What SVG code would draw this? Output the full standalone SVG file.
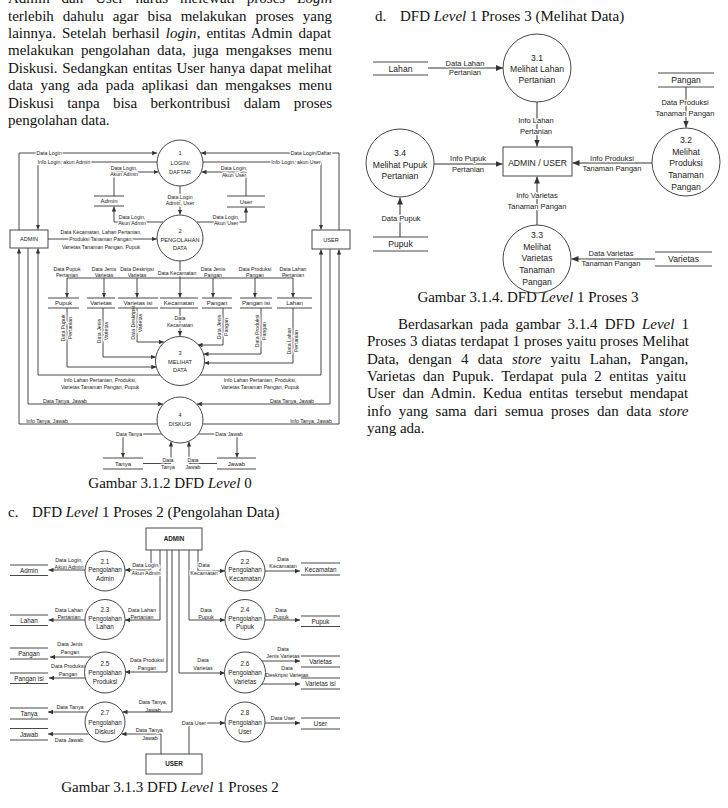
<svg xmlns="http://www.w3.org/2000/svg" width="728" height="808" viewBox="0 0 728 808">
<defs>
<marker id="a" markerUnits="userSpaceOnUse" markerWidth="5" markerHeight="5" refX="5" refY="2.5" orient="auto"><path d="M0,0.3 L5,2.5 L0,4.7 z" fill="#333"/></marker>
<marker id="b" markerUnits="userSpaceOnUse" markerWidth="7" markerHeight="7" refX="7" refY="3.5" orient="auto"><path d="M0,0.6 L7,3.5 L0,6.4 z" fill="#333"/></marker>
<style>
.body{font-family:"Liberation Serif","Times New Roman",serif;font-size:15px;fill:#111}
.cap{text-anchor:middle}
.i{font-style:italic}
.sa{font-family:"Liberation Sans",Arial,sans-serif;fill:#222;text-anchor:middle}
.l0{font-size:5.2px}
.p0{font-size:5.6px}
.s0{font-size:6px}
.l3{font-size:7.5px}
.p3{font-size:8.6px}
.l2{font-size:5.4px}
.p2{font-size:6.3px}
.bd{font-weight:bold}
.h{stroke:#fff;stroke-width:2.4px;paint-order:stroke;stroke-linejoin:round}
.w{fill:none;stroke:#333;stroke-width:0.9}
.wa{fill:none;stroke:#333;stroke-width:0.9;marker-end:url(#a)}
.wb{fill:none;stroke:#333;stroke-width:1;marker-end:url(#b)}
.n{fill:#fff;stroke:#333;stroke-width:0.9}
.d{stroke:#333;stroke-width:0.9}
</style>
</defs>
<rect width="728" height="808" fill="#fff"/>

<!-- Body text -->
<g id="text-left">
<text class="body" x="8" y="3" style="word-spacing:8.2px">Admin dan User harus melewati proses <tspan class="i">Login</tspan></text>
<text class="body" x="8" y="20.5" style="word-spacing:5.27px">terlebih dahulu agar bisa melakukan proses yang</text>
<text class="body" x="8" y="37.9" style="word-spacing:2.33px">lainnya. Setelah berhasil <tspan class="i">login</tspan>, entitas Admin dapat</text>
<text class="body" x="8" y="55.3" style="word-spacing:3.32px">melakukan pengolahan data, juga mengakses menu</text>
<text class="body" x="8" y="72.7" style="word-spacing:0.88px">Diskusi. Sedangkan entitas User hanya dapat melihat</text>
<text class="body" x="8" y="90.1" style="word-spacing:3.86px">data yang ada pada aplikasi dan mengakses menu</text>
<text class="body" x="8" y="107.5" style="word-spacing:9.56px">Diskusi tanpa bisa berkontribusi dalam proses</text>
<text class="body" x="8" y="124.9">pengolahan data.</text>
<text class="body cap" x="170" y="488">Gambar 3.1.2 DFD <tspan class="i">Level</tspan> 0</text>
<text class="body" x="8" y="517">c.</text>
<text class="body" x="32" y="517">DFD <tspan class="i">Level</tspan> 1 Proses 2 (Pengolahan Data)</text>
<text class="body cap" x="170" y="792">Gambar 3.1.3 DFD <tspan class="i">Level</tspan> 1 Proses 2</text>
</g>
<g id="text-right">
<text class="body" x="375" y="20.5">d.</text>
<text class="body" x="400" y="20.5">DFD <tspan class="i">Level</tspan> 1 Proses 3 (Melihat Data)</text>
<text class="body cap" x="528" y="302">Gambar 3.1.4. DFD <tspan class="i">Level</tspan> 1 Proses 3</text>
<text class="body" x="398" y="329" style="word-spacing:3.37px">Berdasarkan pada gambar 3.1.4 DFD <tspan class="i">Level</tspan> 1</text>
<text class="body" x="367" y="346.3" style="word-spacing:0.15px">Proses 3 diatas terdapat 1 proses yaitu proses Melihat</text>
<text class="body" x="367" y="363.6" style="word-spacing:5.5px">Data, dengan 4 data <tspan class="i">store</tspan> yaitu Lahan, Pangan,</text>
<text class="body" x="367" y="380.9" style="word-spacing:3.74px">Varietas dan Pupuk. Terdapat pula 2 entitas yaitu</text>
<text class="body" x="367" y="398.2" style="word-spacing:3.33px">User dan Admin. Kedua entitas tersebut mendapat</text>
<text class="body" x="367" y="415.5" style="word-spacing:3.9px">info yang sama dari semua proses dan data <tspan class="i">store</tspan></text>
<text class="body" x="367" y="432.8">yang ada.</text>
</g>

<!-- ===== DFD Level 0 connectors ===== -->
<g id="l0-connectors">
<path class="wa" d="M19,230 V153 H157.2"/>
<path class="wa" d="M157,162 H38 V229.5"/>
<path class="wa" d="M114,196 V172 H158.5"/>
<path class="wa" d="M163.5,222 H114 V206.5"/>
<path class="wa" d="M48,239 H156.8"/>
<path class="wa" d="M180,186 V214.5"/>
<path class="wa" d="M339,230 V153 H200.8"/>
<path class="wa" d="M203,162 H321 V229.5"/>
<path class="wa" d="M246,196 V172 H201.5"/>
<path class="wa" d="M196.5,222 H246 V207.5"/>
<path class="w" d="M180,261 V278 M67,278 H293"/>
<path class="wa" d="M67,278 V297.5"/>
<path class="wa" d="M104,278 V297.5"/>
<path class="wa" d="M137,278 V297.5"/>
<path class="wa" d="M180,278 V297.5"/>
<path class="wa" d="M213,278 V297.5"/>
<path class="wa" d="M255,278 V297.5"/>
<path class="wa" d="M293,278 V297.5"/>
<path class="wa" d="M67,308 V367 H156.3"/>
<path class="wa" d="M103,308 V357 H155.8"/>
<path class="wa" d="M137,308 V342 H164"/>
<path class="wa" d="M180,308 V336"/>
<path class="wa" d="M223,308 V345 H197.5"/>
<path class="wa" d="M261,308 V354 H203.5"/>
<path class="wa" d="M293,308 V363 H204.3"/>
<path class="wa" d="M160,375 H38 V248.5"/>
<path class="wa" d="M200,375 H321 V249.5"/>
<path class="wa" d="M28,248 V404 H163.2"/>
<path class="wa" d="M330,249 V404 H196.8"/>
<path class="wa" d="M157.4,424 H19 V248.5"/>
<path class="wa" d="M202.6,424 H339 V249.5"/>
<path class="wa" d="M161.5,434 H123 V457.5"/>
<path class="wa" d="M198.5,434 H237 V457.5"/>
<path class="wa" d="M143,463.5 H171 V441.5"/>
<path class="wa" d="M217,463.5 H189 V441.5"/>
<g class="sa l0">
<text class="h" x="49" y="154.8">Data Login</text>
<text class="h" x="64" y="163.8">Info Login, akun Admin</text>
<text class="h" x="124" y="170"><tspan x="124">Data Login,</tspan><tspan x="124" dy="6.2">Akun Admin</tspan></text>
<text class="h" x="132" y="219"><tspan x="132">Data Login,</tspan><tspan x="132" dy="6.2">Akun Admin</tspan></text>
<text class="h" x="101" y="234"><tspan x="101">Data Kecamatan, Lahan Pertanian,</tspan><tspan x="101" dy="7.4">Produksi Tanaman Pangan,</tspan><tspan x="101" dy="7.4">Varietas Tanaman Pangan, Pupuk</tspan></text>
<text class="h" x="180" y="199"><tspan x="180">Data Login</tspan><tspan x="180" dy="6.4">Admin, User</tspan></text>
<text class="h" x="311" y="154.8">Data Login/Daftar</text>
<text class="h" x="296" y="163.8">Info Login, akun User</text>
<text class="h" x="234" y="170"><tspan x="234">Data Login,</tspan><tspan x="234" dy="6.6">Akun User</tspan></text>
<text class="h" x="226" y="219"><tspan x="226">Data Login,</tspan><tspan x="226" dy="6.4">Akun User</tspan></text>
<text x="67" y="270.5"><tspan x="67">Data Pupuk</tspan><tspan x="67" dy="6.8">Pertanian</tspan></text>
<text x="104" y="270.5"><tspan x="104">Data Jenis</tspan><tspan x="104" dy="6.8">Varietas</tspan></text>
<text x="137" y="270.5"><tspan x="137">Data Deskripsi</tspan><tspan x="137" dy="6.8">Varietas</tspan></text>
<text class="h" x="177" y="275">Data Kecamatan</text>
<text x="213" y="270.5"><tspan x="213">Data Jenis</tspan><tspan x="213" dy="6.8">Pangan</tspan></text>
<text x="255" y="270.5"><tspan x="255">Data Produksi</tspan><tspan x="255" dy="6.8">Pangan</tspan></text>
<text x="293" y="270.5"><tspan x="293">Data Lahan</tspan><tspan x="293" dy="6.8">Pertanian</tspan></text>
<text class="h" x="180" y="320"><tspan x="180">Data</tspan><tspan x="180" dy="7">Kecamatan</tspan></text>
<text class="h" transform="translate(67,328) rotate(-90)" x="0" y="-1.6"><tspan x="0">Data Pupuk</tspan><tspan x="0" dy="6.8">Pertanian</tspan></text>
<text class="h" transform="translate(103,331) rotate(-90)" x="0" y="-1.6"><tspan x="0">Data Jenis</tspan><tspan x="0" dy="6.8">Varietas</tspan></text>
<text class="h" transform="translate(137,323) rotate(-90)" x="0" y="-1.6"><tspan x="0">Data Deskripsi</tspan><tspan x="0" dy="6.8">Varietas</tspan></text>
<text class="h" transform="translate(223,327) rotate(-90)" x="0" y="-1.6"><tspan x="0">Data Jenis</tspan><tspan x="0" dy="6.8">Pangan</tspan></text>
<text class="h" transform="translate(261,331) rotate(-90)" x="0" y="-1.6"><tspan x="0">Data Produksi</tspan><tspan x="0" dy="6.8">Pangan</tspan></text>
<text class="h" transform="translate(293,341) rotate(-90)" x="0" y="-1.6"><tspan x="0">Data Lahan</tspan><tspan x="0" dy="6.8">Pertanian</tspan></text>
<text x="100" y="382"><tspan x="100">Info Lahan Pertanian, Produksi,</tspan><tspan x="100" dy="7">Varietas Tanaman Pangan, Pupuk</tspan></text>
<text x="260" y="382"><tspan x="260">Info Lahan Pertanian, Produksi,</tspan><tspan x="260" dy="7">Varietas Tanaman Pangan, Pupuk</tspan></text>
<text x="65" y="402.8">Data Tanya, Jawab</text>
<text x="292" y="402.8">Data Tanya, Jawab</text>
<text x="47" y="422.8">Info Tanya, Jawab</text>
<text x="311" y="422.8">Info Tanya, Jawab</text>
<text class="h" x="129" y="435.8">Data Tanya</text>
<text class="h" x="229" y="435.8">Data Jawab</text>
<text class="h" x="168" y="462"><tspan x="168">Data</tspan><tspan x="168" dy="7.4">Tanya</tspan></text>
<text class="h" x="193" y="462"><tspan x="193">Data</tspan><tspan x="193" dy="7.4">Jawab</tspan></text>
</g>
</g>

<!-- ===== DFD Level 0 nodes ===== -->
<g id="l0-p1"><circle class="n" cx="180" cy="163" r="23"/><text class="sa p0" x="180" y="155"><tspan x="180">1</tspan><tspan x="180" dy="9.5">LOGIN/</tspan><tspan x="180" dy="9">DAFTAR</tspan></text></g>
<g id="l0-p2"><circle class="n" cx="180" cy="238" r="23"/><text class="sa p0" x="180" y="233"><tspan x="180">2</tspan><tspan x="180" dy="8.5">PENGOLAHAN</tspan><tspan x="180" dy="8.5">DATA</tspan></text></g>
<g id="l0-p3"><circle class="n" cx="180" cy="361" r="24.5"/><text class="sa p0" x="180" y="355"><tspan x="180">3</tspan><tspan x="180" dy="8.5">MELIHAT</tspan><tspan x="180" dy="8.5">DATA</tspan></text></g>
<g id="l0-p4"><circle class="n" cx="180" cy="420" r="23"/><text class="sa p0" x="180" y="417"><tspan x="180">4</tspan><tspan x="180" dy="8.5">DISKUSI</tspan></text></g>
<g id="l0-admin"><rect class="n" x="10" y="230" width="38" height="18"/><text class="sa p0" x="29" y="241">ADMIN</text></g>
<g id="l0-user"><rect class="n" x="312" y="230" width="38" height="19"/><text class="sa p0" x="331" y="241.5">USER</text></g>
<g id="l0-ds-admin"><path class="d" d="M94,196 H124 M94,206 H124"/><text class="sa s0" x="109" y="203">Admin</text></g>
<g id="l0-ds-user"><path class="d" d="M227,196 H265 M227,207 H265"/><text class="sa s0" x="246" y="203.5">User</text></g>
<g id="l0-ds-pupuk"><path class="d" d="M48,298 H79 M48,308 H79"/><text class="sa s0" x="63.5" y="305">Pupuk</text></g>
<g id="l0-ds-varietas"><path class="d" d="M87,298 H115 M87,308 H115"/><text class="sa s0" x="101" y="305">Varietas</text></g>
<g id="l0-ds-varietasisi"><path class="d" d="M118,298 H158 M118,308 H158"/><text class="sa s0" x="138" y="305">Varietas isi</text></g>
<g id="l0-ds-kecamatan"><path class="d" d="M160,298 H198 M160,308 H198"/><text class="sa s0" x="179" y="305">Kecamatan</text></g>
<g id="l0-ds-pangan"><path class="d" d="M202,298 H232 M202,308 H232"/><text class="sa s0" x="217" y="305">Pangan</text></g>
<g id="l0-ds-panganisi"><path class="d" d="M240,298 H272 M240,308 H272"/><text class="sa s0" x="256" y="305">Pangan isi</text></g>
<g id="l0-ds-lahan"><path class="d" d="M277,298 H312 M277,308 H312"/><text class="sa s0" x="294.5" y="305">Lahan</text></g>
<g id="l0-ds-tanya"><path class="d" d="M103,458 H143 M103,469 H143"/><text class="sa s0" x="123" y="466">Tanya</text></g>
<g id="l0-ds-jawab"><path class="d" d="M217,458 H256 M217,469 H256"/><text class="sa s0" x="236.5" y="466">Jawab</text></g>

<!-- ===== DFD Level 1 Proses 3 connectors ===== -->
<g id="l13-connectors">
<path class="wb" d="M428,68 H503"/>
<path class="wb" d="M537,102 V146.5"/>
<path class="wb" d="M686,87 V127.5"/>
<path class="wb" d="M652,163 H572.5"/>
<path class="wb" d="M434,164 H502.5"/>
<path class="wb" d="M400,237 V197.5"/>
<path class="wb" d="M537,225 V176.5"/>
<path class="wb" d="M655,259 H571.5"/>
<g class="sa l3">
<text class="h" x="465" y="65.7"><tspan x="465">Data Lahan</tspan><tspan x="465" dy="9">Pertanian</tspan></text>
<text class="h" x="536" y="122.7"><tspan x="536">Info Lahan</tspan><tspan x="536" dy="11">Pertanian</tspan></text>
<text class="h" x="685" y="104.7"><tspan x="685">Data Produksi</tspan><tspan x="685" dy="11">Tanaman Pangan</tspan></text>
<text class="h" x="612" y="160.7"><tspan x="612">Info Produksi</tspan><tspan x="612" dy="10">Tanaman Pangan</tspan></text>
<text class="h" x="468" y="160.7"><tspan x="468">Info Pupuk</tspan><tspan x="468" dy="11">Pertanian</tspan></text>
<text class="h" x="401" y="220.7">Data Pupuk</text>
<text class="h" x="537" y="197.7"><tspan x="537">Info Varietas</tspan><tspan x="537" dy="11">Tanaman Pangan</tspan></text>
<text class="h" x="611" y="255.7"><tspan x="611">Data Varietas</tspan><tspan x="611" dy="10">Tanaman Pangan</tspan></text>
</g>
</g>

<!-- ===== DFD Level 1 Proses 3 nodes ===== -->
<g id="l13-p31"><circle class="n" cx="537" cy="68" r="34"/><text class="sa p3" x="537" y="61"><tspan x="537">3.1</tspan><tspan x="537" dy="10.5">Melihat Lahan</tspan><tspan x="537" dy="11.5">Pertanian</tspan></text></g>
<g id="l13-p32"><circle class="n" cx="686" cy="162" r="34"/><text class="sa p3" x="686" y="143"><tspan x="686">3.2</tspan><tspan x="686" dy="11.7">Melihat</tspan><tspan x="686" dy="11.7">Produksi</tspan><tspan x="686" dy="11.7">Tanaman</tspan><tspan x="686" dy="11.7">Pangan</tspan></text></g>
<g id="l13-p33"><circle class="n" cx="537" cy="259" r="34"/><text class="sa p3" x="537" y="238"><tspan x="537">3.3</tspan><tspan x="537" dy="11.7">Melihat</tspan><tspan x="537" dy="11.7">Varietas</tspan><tspan x="537" dy="11.7">Tanaman</tspan><tspan x="537" dy="11.7">Pangan</tspan></text></g>
<g id="l13-p34"><circle class="n" cx="400" cy="163" r="34"/><text class="sa p3" x="400" y="156"><tspan x="400">3.4</tspan><tspan x="400" dy="11.5">Melihat Pupuk</tspan><tspan x="400" dy="11.5">Pertanian</tspan></text></g>
<g id="l13-adminuser"><rect class="n" x="503" y="147" width="69" height="29"/><text class="sa p3" x="537.5" y="165.5">ADMIN / USER</text></g>
<g id="l13-ds-lahan"><path class="d" d="M373,62 H428 M373,75 H428"/><text class="sa p3" x="400.5" y="71.5">Lahan</text></g>
<g id="l13-ds-pangan"><path class="d" d="M658,73 H714 M658,87 H714"/><text class="sa p3" x="686" y="83">Pangan</text></g>
<g id="l13-ds-pupuk"><path class="d" d="M373,237 H428 M373,251 H428"/><text class="sa p3" x="400.5" y="247">Pupuk</text></g>
<g id="l13-ds-varietas"><path class="d" d="M655,252 H712 M655,266 H712"/><text class="sa p3" x="683.5" y="262">Varietas</text></g>

<!-- ===== DFD Level 1 Proses 2 connectors ===== -->
<g id="l12-connectors">
<path class="wa" d="M151,550 V570 H125"/>
<path class="wa" d="M85,570 H48.5"/>
<path class="wa" d="M160,550 V620 H125"/>
<path class="wa" d="M85,620 H48.5"/>
<path class="wa" d="M91,657 H50"/>
<path class="wa" d="M86,678 H49"/>
<path class="wa" d="M167,550 V672 H125"/>
<path class="wa" d="M172,550 V712 H122.5"/>
<path class="wa" d="M87.7,712 H48"/>
<path class="wa" d="M88.5,734 H48"/>
<path class="wa" d="M161,754 V734 H121.5"/>
<path class="wa" d="M198,550 V571 H225"/>
<path class="wa" d="M265,571 H300"/>
<path class="wa" d="M189,550 V620 H225"/>
<path class="wa" d="M265,620 H300"/>
<path class="wa" d="M179,550 V673 H225"/>
<path class="wa" d="M261.7,661 H300"/>
<path class="wa" d="M261,684 H300"/>
<path class="wa" d="M189,754 V723 H225"/>
<path class="wa" d="M265,723 H300"/>
<g class="sa l2">
<text class="h" x="146" y="567"><tspan x="146">Data Login,</tspan><tspan x="146" dy="7.5">Akun Admin</tspan></text>
<text x="69" y="561.5"><tspan x="69">Data Login,</tspan><tspan x="69" dy="7.5">Akun Admin</tspan></text>
<text x="142" y="611.5"><tspan x="142">Data Lahan</tspan><tspan x="142" dy="7.5">Pertanian</tspan></text>
<text x="69" y="611.5"><tspan x="69">Data Lahan</tspan><tspan x="69" dy="7.5">Pertanian</tspan></text>
<text x="70" y="645.5"><tspan x="70">Data Jenis</tspan><tspan x="70" dy="8.5">Pangan</tspan></text>
<text x="68" y="667.5"><tspan x="68">Data Produksi</tspan><tspan x="68" dy="8.5">Pangan</tspan></text>
<text x="147" y="662"><tspan x="147">Data Produksi</tspan><tspan x="147" dy="7.7">Pangan</tspan></text>
<text x="153" y="704"><tspan x="153">Data Tanya,</tspan><tspan x="153" dy="7.5">Jawab</tspan></text>
<text x="70" y="709">Data Tanya</text>
<text x="69" y="742">Data Jawab</text>
<text class="h" x="150" y="732"><tspan x="150">Data Tanya,</tspan><tspan x="150" dy="7.5">Jawab</tspan></text>
<text class="h" x="204" y="567"><tspan x="204">Data</tspan><tspan x="204" dy="7.5">Kecamatan</tspan></text>
<text x="283" y="560.5"><tspan x="283">Data</tspan><tspan x="283" dy="7.8">Kecamatan</tspan></text>
<text x="206" y="611.5"><tspan x="206">Data</tspan><tspan x="206" dy="7.5">Pupuk</tspan></text>
<text x="281" y="611.5"><tspan x="281">Data</tspan><tspan x="281" dy="7.5">Pupuk</tspan></text>
<text x="203" y="662"><tspan x="203">Data</tspan><tspan x="203" dy="7.7">Varietas</tspan></text>
<text x="283" y="650.5"><tspan x="283">Data</tspan><tspan x="283" dy="7.8">Jenis Varietas</tspan></text>
<text x="287" y="669.5"><tspan x="287">Data</tspan><tspan x="287" dy="7.8">Deskripsi Varietas</tspan></text>
<text class="h" x="194" y="725">Data User</text>
<text x="283" y="720">Data User</text>
</g>
</g>

<!-- ===== DFD Level 1 Proses 2 nodes ===== -->
<g id="l12-admin"><rect class="n" x="146" y="528" width="56" height="22"/><text class="sa p2 bd" x="174" y="541.3">ADMIN</text></g>
<g id="l12-user"><rect class="n" x="146" y="754" width="56" height="20"/><text class="sa p2 bd" x="174" y="766.3">USER</text></g>
<g id="l12-p21"><circle class="n" cx="105" cy="571" r="20"/><text class="sa p2" x="105" y="563.5"><tspan x="105">2.1</tspan><tspan x="105" dy="8.7">Pengolahan</tspan><tspan x="105" dy="8.7">Admin</tspan></text></g>
<g id="l12-p23"><circle class="n" cx="105" cy="619.5" r="20"/><text class="sa p2" x="105" y="612"><tspan x="105">2.3</tspan><tspan x="105" dy="8.7">Pengolahan</tspan><tspan x="105" dy="8.7">Lahan</tspan></text></g>
<g id="l12-p25"><circle class="n" cx="105" cy="672.5" r="20.5"/><text class="sa p2" x="105" y="665.5"><tspan x="105">2.5</tspan><tspan x="105" dy="9">Pengolahan</tspan><tspan x="105" dy="9">Produksi</tspan></text></g>
<g id="l12-p27"><circle class="n" cx="105" cy="722" r="20"/><text class="sa p2" x="105" y="715"><tspan x="105">2.7</tspan><tspan x="105" dy="9.5">Pengolahan</tspan><tspan x="105" dy="9">Diskusi</tspan></text></g>
<g id="l12-p22"><circle class="n" cx="245" cy="571" r="20"/><text class="sa p2" x="245" y="563.5"><tspan x="245">2.2</tspan><tspan x="245" dy="8.7">Pengolahan</tspan><tspan x="245" dy="8.7">Kecamatan</tspan></text></g>
<g id="l12-p24"><circle class="n" cx="245" cy="619.5" r="20"/><text class="sa p2" x="245" y="612"><tspan x="245">2.4</tspan><tspan x="245" dy="8.7">Pengolahan</tspan><tspan x="245" dy="8.7">Pupuk</tspan></text></g>
<g id="l12-p26"><circle class="n" cx="245" cy="672.5" r="20.5"/><text class="sa p2" x="245" y="665.5"><tspan x="245">2.6</tspan><tspan x="245" dy="9">Pengolahan</tspan><tspan x="245" dy="9">Varietas</tspan></text></g>
<g id="l12-p28"><circle class="n" cx="245" cy="722" r="20"/><text class="sa p2" x="245" y="715"><tspan x="245">2.8</tspan><tspan x="245" dy="9.5">Pengolahan</tspan><tspan x="245" dy="9">User</tspan></text></g>
<g id="l12-ds-admin"><path class="d" d="M10,565 H48 M10,575.5 H48"/><text class="sa p2" x="29" y="572.5">Admin</text></g>
<g id="l12-ds-lahan"><path class="d" d="M10,615 H48 M10,625.5 H48"/><text class="sa p2" x="29" y="622.5">Lahan</text></g>
<g id="l12-ds-pangan"><path class="d" d="M10,648 H48 M10,659 H48"/><text class="sa p2" x="29" y="656">Pangan</text></g>
<g id="l12-ds-panganisi"><path class="d" d="M10,673 H48 M10,683.5 H48"/><text class="sa p2" x="29" y="680.5">Pangan isi</text></g>
<g id="l12-ds-tanya"><path class="d" d="M10,708 H48 M10,719 H48"/><text class="sa p2" x="29" y="716">Tanya</text></g>
<g id="l12-ds-jawab"><path class="d" d="M10,728.5 H48 M10,740 H48"/><text class="sa p2" x="29" y="736.5">Jawab</text></g>
<g id="l12-ds-kecamatan"><path class="d" d="M301,563 H340 M301,575 H340"/><text class="sa p2" x="320.5" y="571.5">Kecamatan</text></g>
<g id="l12-ds-pupuk"><path class="d" d="M301,616 H340 M301,626.5 H340"/><text class="sa p2" x="320.5" y="623.5">Pupuk</text></g>
<g id="l12-ds-varietas"><path class="d" d="M301,656 H340 M301,667 H340"/><text class="sa p2" x="320.5" y="664">Varietas</text></g>
<g id="l12-ds-varietasisi"><path class="d" d="M301,678 H340 M301,689 H340"/><text class="sa p2" x="320.5" y="686">Varietas isi</text></g>
<g id="l12-ds-user"><path class="d" d="M301,718 H340 M301,729 H340"/><text class="sa p2" x="320.5" y="726">User</text></g>
</svg>
